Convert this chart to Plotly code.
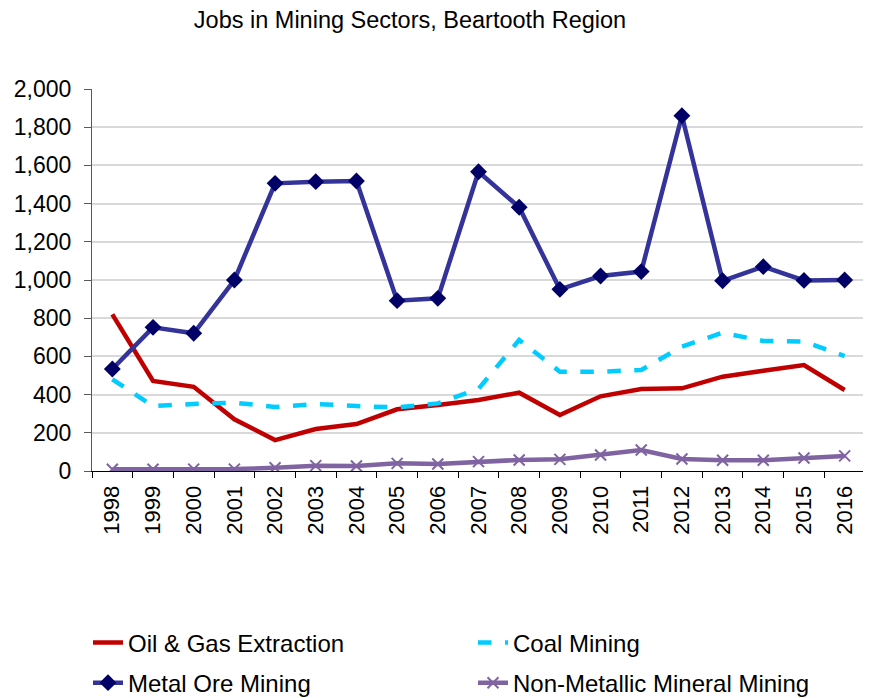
import plotly.graph_objects as go

years = [str(y) for y in range(1998, 2017)]
oil_gas = [820, 471, 441, 271, 162, 220, 246, 323, 346, 372, 410, 293, 391, 429, 433, 494, 525, 555, 424]
coal = [480, 340, 351, 358, 335, 351, 340, 333, 354, 430, 686, 520, 520, 529, 651, 724, 681, 677, 602]
metal_ore = [534, 752, 721, 1000, 1506, 1515, 1518, 892, 904, 1567, 1381, 951, 1021, 1044, 1860, 996, 1070, 998, 1000]
non_metallic = [9, 9, 10, 10, 17, 28, 26, 40, 37, 49, 58, 61, 84, 110, 63, 56, 56, 68, 79]

FONT = "Liberation Sans, Arial, sans-serif"
W, H = 863, 690  # page body has an 8px default margin

fig = go.Figure()
fig.add_trace(go.Scatter(x=years, y=oil_gas, name="Oil & Gas Extraction", mode="lines",
                         legend="legend", legendgroup="a",
                         line=dict(color="#C00000", width=4.5)))
fig.add_trace(go.Scatter(x=years, y=coal, name="Coal Mining", mode="lines",
                         legend="legend2", legendgroup="c",
                         line=dict(color="#00CCFF", width=4.5, dash="dash")))
fig.add_trace(go.Scatter(x=years, y=metal_ore, name="Metal Ore Mining", mode="lines+markers",
                         legend="legend", legendgroup="b",
                         line=dict(color="#333399", width=4.5),
                         marker=dict(symbol="diamond", size=13, color="#000066")))
fig.add_trace(go.Scatter(x=years, y=non_metallic, name="Non-Metallic Mineral Mining", mode="lines+markers",
                         legend="legend2", legendgroup="d",
                         line=dict(color="#8064A2", width=4.5),
                         marker=dict(symbol="x-thin", size=11, color="#8064A2",
                                     line=dict(color="#8064A2", width=2))))

leg_common = dict(orientation="v", xref="container", yref="container", xanchor="left",
                  yanchor="top", y=0.1125, font=dict(size=24, family=FONT),
                  tracegroupgap=6, bgcolor="rgba(0,0,0,0)")

fig.update_layout(
    width=W, height=H,
    paper_bgcolor="white", plot_bgcolor="white",
    font=dict(family=FONT, color="black", size=22),
    title=dict(text="Jobs in Mining Sectors, Beartooth Region", x=402 / W, xanchor="center",
               xref="container", yref="container",
               y=1 - 12 / H, yanchor="middle", font=dict(size=23.5)),
    margin=dict(l=84, r=6, t=81, b=227, autoexpand=False),
    showlegend=True,
    legend=dict(x=80 / W, **leg_common),
    legend2=dict(x=465 / W, **leg_common),
    xaxis=dict(type="category", range=[-0.5, 18.5], tickangle=-90,
               showline=True, linecolor="black", linewidth=1,
               ticks="outside", ticklen=6, tickcolor="black", tickson="boundaries",
               showgrid=False, tickfont=dict(size=22), automargin=False,
               ticklabelstandoff=5),
    yaxis=dict(range=[0, 2000], dtick=200, tickformat=",", showline=True,
               linecolor="#595959", linewidth=1, ticks="outside", ticklen=7,
               tickcolor="#595959", showgrid=True, gridcolor="#D9D9D9", gridwidth=1.5,
               zeroline=False, tickfont=dict(size=23), automargin=False,
               ticklabelstandoff=8),
)

fig.write_html("out.html")
